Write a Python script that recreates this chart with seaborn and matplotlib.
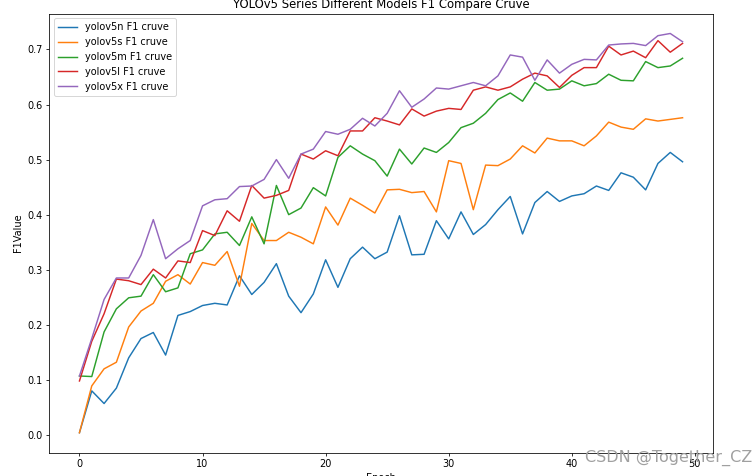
import numpy as np
import pandas as pd
import seaborn as sns
import matplotlib.pyplot as plt

# Datos (F1 por epoch)
epochs = list(range(50))

yolov5n = [0.004, 0.080, 0.057, 0.085, 0.140, 0.175, 0.186, 0.145, 0.217, 0.224,
           0.235, 0.239, 0.236, 0.289, 0.255, 0.277, 0.311, 0.252, 0.222, 0.256,
           0.318, 0.268, 0.320, 0.341, 0.320, 0.332, 0.398, 0.327, 0.328, 0.389,
           0.356, 0.405, 0.364, 0.382, 0.409, 0.433, 0.365, 0.422, 0.442, 0.424,
           0.434, 0.438, 0.452, 0.444, 0.476, 0.468, 0.445, 0.493, 0.513, 0.496]

yolov5s = [0.004, 0.089, 0.120, 0.132, 0.196, 0.225, 0.239, 0.279, 0.291, 0.274,
           0.313, 0.308, 0.333, 0.270, 0.384, 0.353, 0.353, 0.368, 0.359, 0.347,
           0.414, 0.381, 0.430, 0.417, 0.403, 0.445, 0.446, 0.440, 0.442, 0.405,
           0.498, 0.493, 0.409, 0.490, 0.489, 0.501, 0.525, 0.512, 0.539, 0.534,
           0.534, 0.525, 0.543, 0.568, 0.559, 0.555, 0.574, 0.570, 0.573, 0.576]

yolov5m = [0.107, 0.106, 0.187, 0.229, 0.249, 0.252, 0.291, 0.260, 0.267, 0.329,
           0.336, 0.365, 0.368, 0.344, 0.396, 0.347, 0.453, 0.400, 0.412, 0.449,
           0.434, 0.504, 0.525, 0.510, 0.498, 0.470, 0.519, 0.492, 0.521, 0.513,
           0.531, 0.558, 0.566, 0.584, 0.609, 0.621, 0.606, 0.640, 0.626, 0.628,
           0.643, 0.634, 0.638, 0.655, 0.644, 0.643, 0.678, 0.667, 0.670, 0.684]

yolov5l = [0.098, 0.170, 0.220, 0.283, 0.280, 0.273, 0.301, 0.285, 0.316, 0.313,
           0.371, 0.362, 0.407, 0.388, 0.453, 0.430, 0.435, 0.444, 0.510, 0.501,
           0.516, 0.507, 0.552, 0.552, 0.576, 0.570, 0.563, 0.592, 0.579, 0.588,
           0.593, 0.591, 0.626, 0.632, 0.626, 0.632, 0.646, 0.657, 0.652, 0.631,
           0.653, 0.667, 0.667, 0.706, 0.690, 0.697, 0.685, 0.716, 0.695, 0.711]

yolov5x = [0.107, 0.175, 0.246, 0.285, 0.285, 0.326, 0.391, 0.320, 0.338, 0.353,
           0.416, 0.427, 0.429, 0.451, 0.452, 0.464, 0.500, 0.466, 0.510, 0.519,
           0.551, 0.546, 0.555, 0.575, 0.561, 0.584, 0.625, 0.595, 0.610, 0.630,
           0.628, 0.634, 0.640, 0.634, 0.652, 0.690, 0.686, 0.644, 0.681, 0.657,
           0.673, 0.682, 0.681, 0.708, 0.710, 0.711, 0.707, 0.725, 0.729, 0.714]

labels = ["yolov5n F1 cruve", "yolov5s F1 cruve", "yolov5m F1 cruve",
          "yolov5l F1 cruve", "yolov5x F1 cruve"]
series = [yolov5n, yolov5s, yolov5m, yolov5l, yolov5x]
colors = sns.color_palette("tab10", 5)

dpi = 70
fig = plt.figure(figsize=(755 / dpi, 476 / dpi), dpi=dpi)
ax = fig.add_axes([0.0653, 0.049, 0.8787, 0.9226])

for vals, name, c in zip(series, labels, colors):
    sns.lineplot(x=epochs, y=vals, label=name, color=c, ax=ax)

ax.set_title("YOLOv5 Series Different Models F1 Compare Cruve")
ax.set_xlabel("Epoch")
ax.set_ylabel("F1Value")
ax.legend(loc="upper left")

# marca de agua del blog
fig.text(0.775, 0.038, "CSDN @Together_CZ", color="#a0a0a0", fontsize=16.5,
         family=["Liberation Sans Narrow", "DejaVu Sans"], va="center")

fig.savefig("out.png", dpi=dpi)
